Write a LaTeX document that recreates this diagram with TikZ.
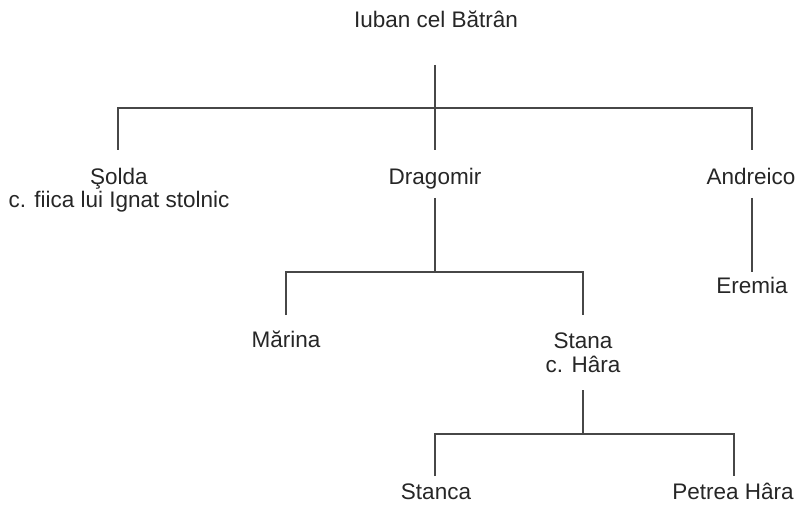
\documentclass[tikz,border=0pt]{standalone}
\usepackage{fontspec}
\setmainfont{Liberation Sans}
\begin{document}
\begin{tikzpicture}[x=1pt,y=-1pt,
  person/.style={font=\fontsize{22.5}{23.5}\selectfont, inner sep=0pt, align=center, text=black!85, anchor=base},
  link/.style={line width=1.2pt, draw=black!72}]
\useasboundingbox (0,0) rectangle (798,505);
% people (anchor = baseline of the last line)
\node[person] (iuban) at (436,28) {Iuban cel Bătrân};
\node[person] (solda) at (119,208) {Şolda\\c. fiica lui Ignat stolnic};
\node[person] (dragomir) at (435,185) {Dragomir};
\node[person] (andreico) at (751,185) {Andreico};
\node[person] (eremia) at (752,293) {Eremia};
\node[person] (marina) at (286,347) {Mărina};
\node[person] (stana) at (583,372) {Stana\\c. Hâra};
\node[person] (stanca) at (436,499) {Stanca};
\node[person] (petrea) at (733,499) {Petrea Hâra};
% junction points
\coordinate (a0) at (435,65);
\coordinate (a1) at (435,108);
\coordinate (aL) at (118,108);
\coordinate (aR) at (752,108);
\coordinate (aLd) at (118,150);
\coordinate (aMd) at (435,150);
\coordinate (aRd) at (752,150);
\coordinate (d0) at (435,198);
\coordinate (d1) at (435,272);
\coordinate (dL) at (286,272);
\coordinate (dR) at (583,272);
\coordinate (dLd) at (286,315);
\coordinate (dRd) at (583,315);
\coordinate (e0) at (752,198);
\coordinate (e1) at (752,272);
\coordinate (s0) at (583,390);
\coordinate (s1) at (583,434);
\coordinate (sL) at (435,434);
\coordinate (sR) at (734,434);
\coordinate (sLd) at (435,476);
\coordinate (sRd) at (734,476);
% connectors
\draw[link] (a0) -- (a1);
\draw[link] (aLd) -- (aL) -- (aR) -- (aRd);
\draw[link] (a1) -- (aMd);
\draw[link] (d0) -- (d1);
\draw[link] (dLd) -- (dL) -- (dR) -- (dRd);
\draw[link] (e0) -- (e1);
\draw[link] (s0) -- (s1);
\draw[link] (sLd) -- (sL) -- (sR) -- (sRd);
\end{tikzpicture}
\end{document}
